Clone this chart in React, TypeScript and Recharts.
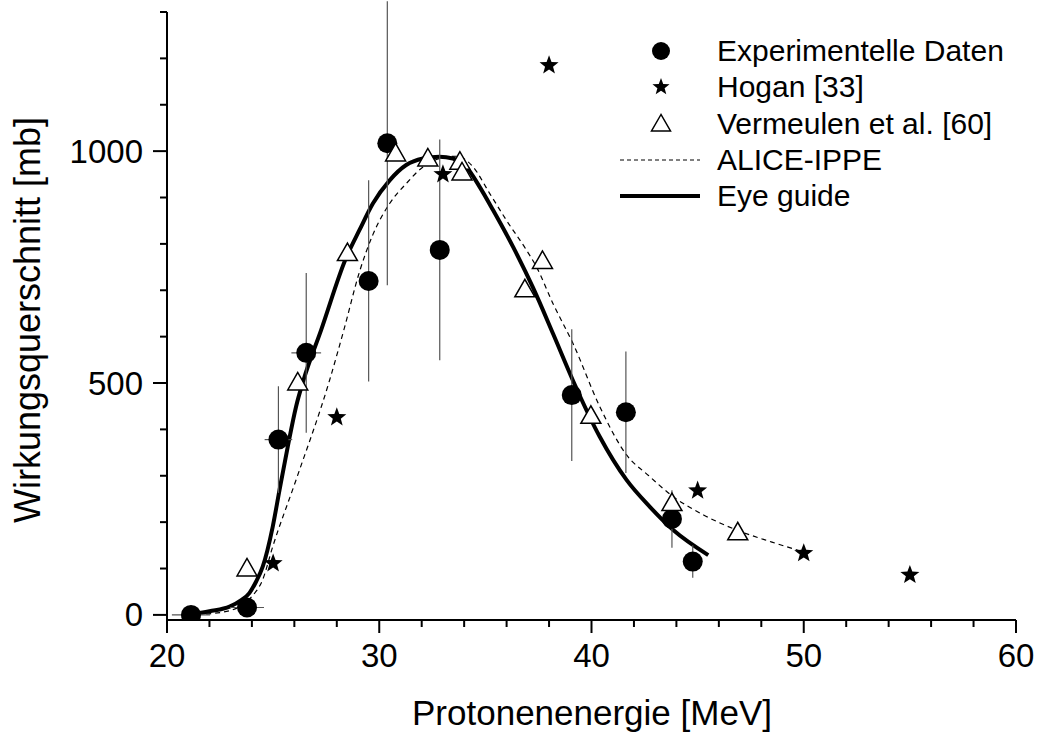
import React from 'react';
import {
  ComposedChart,
  Line,
  Scatter,
  ErrorBar,
  XAxis,
  YAxis,
} from 'recharts';

// Experimentelle Daten (filled circles with error bars)
const expEnergy = [21.13, 23.77, 25.25, 26.56, 29.5, 30.38, 32.85, 39.07, 41.62, 43.79, 44.77];
const expSigma = [0, 16, 378, 565, 720, 1017, 787, 474, 437, 207, 115];
const expSigmaErr = [0, 0, 115, 172, 217, 306, 238, 142, 131, 62, 35];
const expEnergyErr = [0.9, 0.8, 0.65, 0.7, 0, 0, 0, 0, 0, 0, 0];

// Hogan [33]
const hoganEnergy = [25, 28, 33, 38, 45, 50, 55];
const hoganSigma = [111, 426, 950, 1185, 268, 133, 86];

// Vermeulen et al. [60]
const vermEnergy = [23.77, 26.16, 28.5, 30.77, 32.29, 33.8, 33.9, 36.86, 37.69, 39.97, 43.79, 46.89];
const vermSigma = [98, 499, 778, 993, 982, 975, 952, 700, 761, 427, 239, 176];

// ALICE-IPPE calculation
const aliceEnergy = [21, 22.5, 23.5, 24, 24.5, 24.98, 26.08, 27.66, 28.33, 29.07, 29.7, 30.49, 31.27, 32.06, 32.84, 33.63, 34.42, 35.2, 35.99, 36.93, 37.4, 38.2, 39.13, 40.39, 41.65, 42.7, 43.85, 45.3, 46.84, 48.5, 49.98];
const aliceSigma = [0, 5, 20, 40, 75, 147, 291, 506, 614, 740, 820, 887, 930, 966, 984, 989, 966, 909, 851, 787, 751, 670, 585, 449, 345, 300, 255, 215, 183, 157, 136];

// Eye guide
const eyeEnergy = [21.05, 22.0, 22.95, 23.5, 23.88, 24.2, 24.51, 24.98, 25.3, 25.69, 26.08, 26.43, 27.26, 28.44, 29.07, 29.7, 30.49, 31.27, 32.06, 32.84, 33.47, 34.1, 34.73, 35.36, 36.3, 37.25, 38.2, 39.13, 40.39, 41.65, 42.75, 43.85, 45.5];
const eyeSigma = [0, 8, 18, 32, 47, 72, 104, 190, 269, 363, 449, 506, 614, 770, 830, 887, 937, 970, 984, 988, 984, 966, 923, 873, 794, 705, 605, 505, 384, 291, 233, 183, 129];

const xTicks = [20, 22, 24, 26, 28, 30, 32, 34, 36, 38, 40, 42, 44, 46, 48, 50, 52, 54, 56, 58, 60];
const yTicks = [0, 100, 200, 300, 400, 500, 600, 700, 800, 900, 1000, 1100, 1200, 1300];

const expData = expEnergy.map((x, i) => ({ x, y: expSigma[i], ey: expSigmaErr[i], ex: expEnergyErr[i] }));
const hoganData = hoganEnergy.map((x, i) => ({ x, y: hoganSigma[i] }));
const vermData = vermEnergy.map((x, i) => ({ x, y: vermSigma[i] }));
const aliceData = aliceEnergy.map((x, i) => ({ x, y: aliceSigma[i] }));
const eyeData = eyeEnergy.map((x, i) => ({ x, y: eyeSigma[i] }));

const FONT = "Arial, 'Liberation Sans', Helvetica, sans-serif";

const Circle = (props: any) => <circle cx={props.cx} cy={props.cy} r={10} fill="#000" />;

const starPath = (cx: number, cy: number, R: number, r: number) => {
  const pts: string[] = [];
  for (let i = 0; i < 10; i++) {
    const rad = i % 2 === 0 ? R : r;
    const a = -Math.PI / 2 + (i * Math.PI) / 5;
    pts.push(`${cx + rad * Math.cos(a)},${cy + rad * Math.sin(a)}`);
  }
  return `M${pts.join('L')}Z`;
};

const Star = (props: any) => <path d={starPath(props.cx, props.cy, 10, 4.2)} fill="#000" />;

const Triangle = (props: any) => {
  const { cx, cy } = props;
  return (
    <path
      d={`M${cx},${cy - 11}L${cx - 10},${cy + 6.5}L${cx + 10},${cy + 6.5}Z`}
      fill="#fff"
      stroke="#000"
      strokeWidth={1.5}
    />
  );
};

const LeftTick = ({ x, y, payload }: any) => {
  const v = payload.value;
  const major = v % 500 === 0;
  return (
    <g>
      <line x1={x} x2={x - (major ? 14 : 7)} y1={y} y2={y} stroke="#000" strokeWidth={2} />
      {major && (
        <text x={x - 24} y={y} dy="0.35em" textAnchor="end" fontSize={33} fontFamily={FONT} fill="#000">
          {v}
        </text>
      )}
    </g>
  );
};

const BottomTick = ({ x, y, payload }: any) => {
  const v = payload.value;
  const major = v % 10 === 0;
  return (
    <g>
      <line x1={x} x2={x} y1={y} y2={y + (major ? 13 : 7)} stroke="#000" strokeWidth={2} />
      {major && (
        <text x={x} y={y + 47} textAnchor="middle" fontSize={33} fontFamily={FONT} fill="#000">
          {v}
        </text>
      )}
    </g>
  );
};

const TopTick = ({ x, y }: any) => <line x1={x} x2={x} y1={y} y2={y + 3} stroke="#000" strokeWidth={1.5} />;
const RightTick = ({ x, y }: any) => <line x1={x} x2={x - 3} y1={y} y2={y} stroke="#000" strokeWidth={1.5} />;

const legendItems = [
  { label: 'Experimentelle Daten', kind: 'circle' },
  { label: 'Hogan [33]', kind: 'star' },
  { label: 'Vermeulen et al. [60]', kind: 'triangle' },
  { label: 'ALICE-IPPE', kind: 'dash' },
  { label: 'Eye guide', kind: 'solid' },
];

const LegendSymbol = ({ kind }: { kind: string }) => (
  <svg width={80} height={36} style={{ display: 'block' }}>
    {kind === 'circle' && <circle cx={41} cy={18} r={9} fill="#000" />}
    {kind === 'star' && <path d={starPath(41, 18, 9, 3.8)} fill="#000" />}
    {kind === 'triangle' && <path d="M41,8.5L31.5,25L50.5,25Z" fill="#fff" stroke="#000" strokeWidth={1.5} />}
    {kind === 'dash' && <line x1={0} x2={80} y1={18} y2={18} stroke="#000" strokeWidth={1} strokeDasharray="4 3" />}
    {kind === 'solid' && <line x1={0} x2={80} y1={18} y2={18} stroke="#000" strokeWidth={4} strokeLinecap="round" />}
  </svg>
);

export default function App() {
  return (
    <div style={{ position: 'absolute', left: 0, top: 0, width: 1037, height: 738, background: '#fff', fontFamily: FONT }}>
      <ComposedChart width={1037} height={738} margin={{ top: 12, right: 21, bottom: 0, left: 0 }}>
        <XAxis
          xAxisId="bottom"
          type="number"
          dataKey="x"
          domain={[20, 60]}
          ticks={xTicks}
          interval={0}
          allowDataOverflow
          height={118}
          tickSize={0}
          tickMargin={0}
          tickLine={false}
          tick={<BottomTick />}
          axisLine={{ stroke: '#000', strokeWidth: 2 }}
        />
        <XAxis
          xAxisId="top"
          orientation="top"
          type="number"
          dataKey="x"
          domain={[20, 60]}
          ticks={xTicks}
          interval={0}
          allowDataOverflow
          height={0}
          tickSize={0}
          tickMargin={0}
          tickLine={false}
          tick={<TopTick />}
          axisLine={{ stroke: '#000', strokeWidth: 2 }}
        />
        <YAxis
          yAxisId="left"
          type="number"
          domain={[-11, 1300]}
          ticks={yTicks}
          interval={0}
          allowDataOverflow
          width={167}
          tickSize={0}
          tickMargin={0}
          tickLine={false}
          tick={<LeftTick />}
          axisLine={{ stroke: '#000', strokeWidth: 2 }}
        />
        <YAxis
          yAxisId="right"
          orientation="right"
          type="number"
          domain={[-11, 1300]}
          ticks={yTicks}
          interval={0}
          allowDataOverflow
          width={0}
          tickSize={0}
          tickMargin={0}
          tickLine={false}
          tick={<RightTick />}
          axisLine={{ stroke: '#000', strokeWidth: 2 }}
        />

        <Line
          xAxisId="bottom"
          yAxisId="left"
          data={aliceData}
          dataKey="y"
          type="monotone"
          stroke="#000"
          strokeWidth={1.2}
          strokeDasharray="5 4"
          dot={false}
          activeDot={false}
          isAnimationActive={false}
        />
        <Line
          xAxisId="bottom"
          yAxisId="left"
          data={eyeData}
          dataKey="y"
          type="monotone"
          stroke="#000"
          strokeWidth={4}
          dot={false}
          activeDot={false}
          isAnimationActive={false}
        />
        <Scatter xAxisId="bottom" yAxisId="left" data={expData} dataKey="y" shape={<Circle />} isAnimationActive={false}>
          <ErrorBar dataKey="ey" direction="y" width={0} stroke="#555" strokeWidth={1.2} />
          <ErrorBar dataKey="ex" direction="x" width={0} stroke="#555" strokeWidth={1.2} />
        </Scatter>
        <Scatter xAxisId="bottom" yAxisId="left" data={hoganData} dataKey="y" shape={<Star />} isAnimationActive={false} />
        <Scatter xAxisId="bottom" yAxisId="left" data={vermData} dataKey="y" shape={<Triangle />} isAnimationActive={false} />

        <text x={40} y={320} transform="rotate(-90 40 320)" textAnchor="middle" fontSize={36} fontFamily={FONT} fill="#000">
          Wirkungsquerschnitt [mb]
        </text>
        <text x={592} y={725} textAnchor="middle" fontSize={35} fontFamily={FONT} fill="#000">
          Protonenenergie [MeV]
        </text>
      </ComposedChart>

      <div style={{ position: 'absolute', left: 620, top: 33, fontSize: 30, color: '#000' }}>
        {legendItems.map((item) => (
          <div key={item.label} style={{ display: 'flex', alignItems: 'center', height: 36.3 }}>
            <LegendSymbol kind={item.kind} />
            <span style={{ marginLeft: 17, whiteSpace: 'nowrap', lineHeight: '36px' }}>{item.label}</span>
          </div>
        ))}
      </div>
    </div>
  );
}
